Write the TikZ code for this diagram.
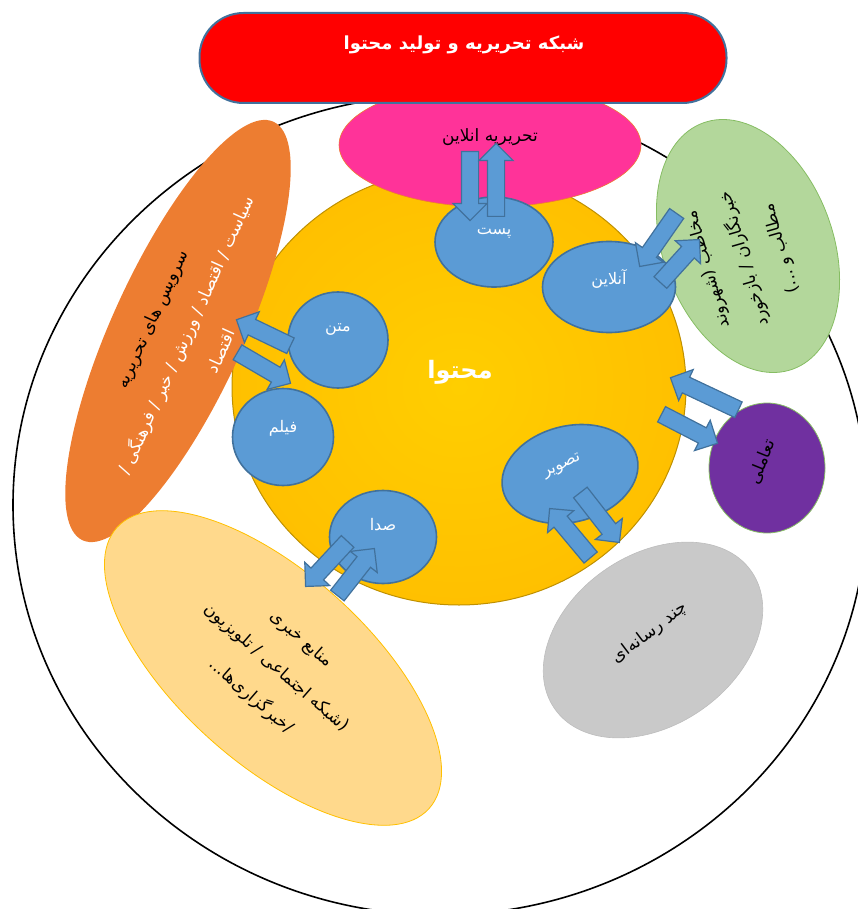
\documentclass[tikz,border=0pt]{standalone}
\usepackage{fontspec}
\newfontfamily\arabicfont[Script=Arabic]{DejaVu Sans}
\TeXXeTstate=1
\usepackage{tikz}
\usetikzlibrary{shapes.geometric, shapes.arrows, calc}

\definecolor{bluefill}{HTML}{5B9BD5}
\definecolor{blueline}{HTML}{41719C}
\definecolor{corein}{HTML}{FFCE00}
\definecolor{coreout}{HTML}{FFC000}
\definecolor{coreline}{HTML}{BF9000}
\definecolor{editfill}{HTML}{FF3399}
\definecolor{editline}{HTML}{ED7D31}
\definecolor{servicefill}{HTML}{ED7D31}
\definecolor{sourcefill}{HTML}{FFD98C}
\definecolor{sourceline}{HTML}{FFC000}
\definecolor{audfill}{HTML}{B3D79B}
\definecolor{audline}{HTML}{86BD63}
\definecolor{interfill}{HTML}{7030A0}
\definecolor{multifill}{HTML}{C9C9C9}
\definecolor{multiline}{HTML}{BDBDBD}

\newcommand{\fa}[1]{\beginR #1\endR}
\newcommand{\flowarrow}[2]{%
  \path let \p1 = ($(#2)-(#1)$) in
    node[flow, rotate={atan2(\y1,\x1)}, minimum height={veclen(\x1,\y1)}] at (#1) {};}

\begin{document}
\begin{tikzpicture}[x=1pt, y=-1pt]
  \tikzstyle{media} = [ellipse, draw=blueline, fill=bluefill, line width=1.6pt, inner sep=0pt]
  \tikzstyle{medialabel} = [text=white, inner sep=0pt, font=\arabicfont\fontsize{16}{18}\selectfont]
  \tikzstyle{blob} = [ellipse, inner sep=0pt]
  \tikzstyle{blobtext} = [align=center, inner sep=0pt, font=\arabicfont\fontsize{17}{38}\selectfont]
  \tikzstyle{flow} = [single arrow, draw=blueline, fill=bluefill, line width=1.2pt, inner xsep=0pt, inner ysep=8pt, single arrow head extend=8.5pt, anchor=tail]

  \useasboundingbox (0,0) rectangle (857,909);

  % Outer frame
  \node (frame) [blob, draw=black, line width=1.6pt, minimum width=854, minimum height=820] at (440,505) {};

  % Content core
  \node (core) [blob, draw=coreline, line width=1pt, inner color=corein, outer color=coreout, minimum width=454, minimum height=436] at (459,387) {};
  \node (coretext) [text=white, inner sep=0pt, font=\arabicfont\bfseries\fontsize{24}{28}\selectfont] at (460,372) {\fa{محتوا}};

  % Surrounding fields
  \node (edit) [blob, draw=editline, line width=0.6pt, fill=editfill, minimum width=302, minimum height=124] at (490,145) {};
  \node (service) [blob, fill=servicefill, minimum width=460, minimum height=132, rotate=65.5] at (178,331) {};
  \node (source) [blob, draw=sourceline, line width=0.8pt, fill=sourcefill, minimum width=420, minimum height=190, rotate=-42] at (273,668) {};
  \node (audience) [blob, draw=audline, line width=0.8pt, fill=audfill, minimum width=262, minimum height=170, rotate=110] at (748,246) {};
  \node (interact) [blob, draw=audline, line width=0.8pt, fill=interfill, minimum width=116, minimum height=130] at (767,468) {};
  \node (multi) [blob, draw=multiline, line width=0.6pt, fill=multifill, minimum width=240, minimum height=170, rotate=35] at (653,640) {};

  % Title
  \node (title) [rectangle, rounded corners=44pt, draw=blueline, line width=2pt, fill=red, minimum width=527, minimum height=90] at (463,58) {};
  \node (titletext) [text=white, inner sep=0pt, font=\arabicfont\bfseries\fontsize{18}{20}\selectfont] at (464,45) {\beginR شبکه تحریریه و تولید محتوا\endR};

  % Field texts
  \node (edittext) [blobtext] at (490,137) {\fa{تحریریه انلاین}};
  \node (servicetext) [blobtext, rotate=65.5] at (186,335) {\fa{سرویس های تحریریه}\\ \textcolor{white}{\fa{سیاست / اقتصاد / ورزش / خبر / فرهنگی /}}\\ \textcolor{white}{\fa{اقتصاد}}};
  \node (sourcetext) [blobtext, rotate=-41] at (276,668) {\fa{منابع خبری}\\ \fa{(شبکه اجتماعی / تلویزیون}\\ \fa{/خبرگزاری‌ها...}};
  \node (audtext) [blobtext, rotate=106] at (745,259) {\fa{مخاطب (شهروند}\\ \fa{خبرنگاران / بازخورد}\\ \fa{مطالب و ...)}};
  \node (intertext) [blobtext, rotate=68] at (762,462) {\fa{تعاملی}};
  \node (multitext) [blobtext, rotate=37] at (650,633) {\fa{چند رسانه‌ای}};

  % Media nodes
  \node (post) [media, minimum width=118, minimum height=90, label={[medialabel, yshift=9pt]center:\fa{پست}}] at (494,242) {};
  \node (online) [media, minimum width=133, minimum height=91, label={[medialabel, yshift=8pt]center:\fa{آنلاین}}] at (609,287) {};
  \node (text) [media, minimum width=100, minimum height=96, label={[medialabel, yshift=10pt]center:\fa{متن}}] at (338,340) {};
  \node (film) [media, minimum width=101, minimum height=97, label={[medialabel, yshift=9pt]center:\fa{فیلم}}] at (283,437) {};
  \node (audio) [media, minimum width=107, minimum height=93, label={[medialabel, yshift=12pt]center:\fa{صدا}}] at (383,537) {};
  \node (image) [media, minimum width=138, minimum height=96, rotate=14, label={[medialabel, rotate=25, xshift=-4pt, yshift=10pt]center:\fa{تصویر}}] at (570,474) {};

  % Arrow ends
  \coordinate (e1) at (470,151); \coordinate (e2) at (470,220);
  \coordinate (e3) at (496,217); \coordinate (e4) at (496,144);
  \coordinate (e5) at (677,213); \coordinate (e6) at (640,266);
  \coordinate (e7) at (660,283); \coordinate (e8) at (699,240);
  \coordinate (e9) at (291,346); \coordinate (e10) at (237,320);
  \coordinate (e11) at (237,352); \coordinate (e12) at (290,383);
  \coordinate (e13) at (348,541); \coordinate (e14) at (306,586);
  \coordinate (e15) at (337,596); \coordinate (e16) at (374,549);
  \coordinate (e17) at (591,558); \coordinate (e18) at (550,509);
  \coordinate (e19) at (580,492); \coordinate (e20) at (619,542);
  \coordinate (e21) at (739,410); \coordinate (e22) at (671,378);
  \coordinate (e23) at (661,414); \coordinate (e24) at (717,443);

  % Arrows
  \flowarrow{e1}{e2} \flowarrow{e3}{e4}
  \flowarrow{e5}{e6} \flowarrow{e7}{e8}
  \flowarrow{e9}{e10} \flowarrow{e11}{e12}
  \flowarrow{e13}{e14} \flowarrow{e15}{e16}
  \flowarrow{e17}{e18} \flowarrow{e19}{e20}
  \flowarrow{e21}{e22} \flowarrow{e23}{e24}
\end{tikzpicture}
\end{document}
